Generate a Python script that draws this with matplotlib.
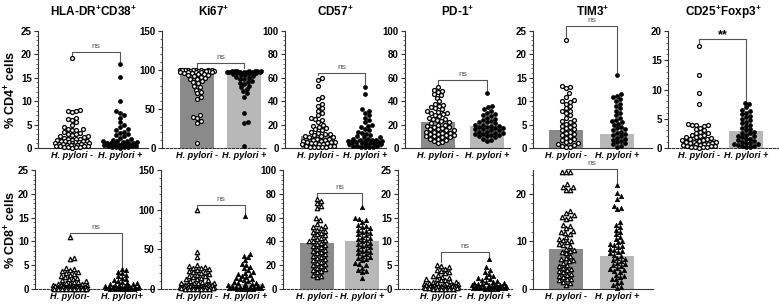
import numpy as np
import matplotlib.pyplot as plt
from matplotlib.ticker import MultipleLocator, AutoMinorLocator

plt.rcParams['font.family'] = ['Liberation Sans', 'DejaVu Sans']
plt.rcParams['mathtext.fontset'] = 'custom'
plt.rcParams['mathtext.rm'] = 'Liberation Sans'
plt.rcParams['mathtext.bf'] = 'Liberation Sans:bold'
plt.rcParams['mathtext.it'] = 'Liberation Sans:italic'

# ---- data ----
titles = [r'HLA-DR$^{\mathbf{+}}$CD38$^{\mathbf{+}}$', r'Ki67$^{\mathbf{+}}$', r'CD57$^{\mathbf{+}}$',
          r'PD-1$^{\mathbf{+}}$', r'TIM3$^{\mathbf{+}}$', r'CD25$^{\mathbf{+}}$Foxp3$^{\mathbf{+}}$']
groups_top = ['H. pylori -', 'H. pylori +']
groups_bot = [['H. pylori-', 'H. pylori+']] + [['H. pylori -', 'H. pylori +']] * 4

# CD4+ row
hla4_neg = [19.2, 8.2, 8.0, 7.8, 7.6, 6.5, 6.2, 6.0, 5.5, 5.0, 4.5, 4.0, 4.0, 3.9, 3.8, 3.5, 3.2, 3.0,
            3.0, 2.8, 2.6, 2.5, 2.4, 2.2, 2.0, 2.0, 1.9, 1.8, 1.7, 1.6, 1.5, 1.5, 1.4, 1.3, 1.2, 1.2,
            1.1, 1.0, 1.0, 0.9, 0.9, 0.8, 0.8, 0.7, 0.7, 0.6, 0.6, 0.5, 0.5, 0.4, 0.4, 0.3, 0.3, 0.2,
            0.2, 0.1]
hla4_pos = [18.0, 15.2, 10.0, 7.8, 7.5, 7.0, 6.5, 5.5, 5.0, 4.5, 4.0, 3.8, 3.5, 3.2, 3.0, 2.8, 2.5,
            2.2, 2.0, 1.8, 1.6, 1.5, 1.4, 1.3, 1.2, 1.1, 1.0, 1.0, 0.9, 0.8, 0.8, 0.7, 0.6, 0.6, 0.5,
            0.5, 0.4, 0.3, 0.3, 0.2, 0.2, 0.1]
ki4_neg = [100, 100, 100, 100, 100, 100, 99.5, 99.5, 99.5, 99, 99, 99, 99, 98.5, 98.5, 98, 98, 97.5,
           97, 97, 96.5, 96, 95.5, 95, 94, 93, 92, 91, 90, 89, 88, 86, 85, 83, 80, 78, 75, 72, 70, 66,
           63, 42, 40, 38, 35, 32, 7]
ki4_pos = [99, 99, 99, 99, 98.5, 98.5, 98.5, 98, 98, 98, 97.5, 97.5, 97, 97, 96.5, 96, 95.5, 95, 94,
           93, 92, 91, 90, 89, 88, 86, 85, 83, 82, 80, 78, 76, 73, 70, 66, 45, 33, 32, 2]
cd57_4_neg = [60, 58, 53, 44, 42, 38, 36, 34, 32, 30, 28, 26, 25, 24, 22, 20, 19, 18, 17, 16, 15, 14,
              13, 12, 12, 11, 10, 10, 9, 9, 8, 8, 7, 7, 6, 6, 5, 5, 5, 4, 4, 4, 3, 3, 3, 2, 2, 2, 1,
              1, 1, 0.5, 0.5]
cd57_4_pos = [52, 46, 33, 32, 30, 28, 26, 24, 22, 20, 19, 18, 16, 15, 14, 13, 12, 11, 10, 9, 9, 8, 8,
              7, 7, 7, 6, 6, 6, 5, 5, 5, 4, 4, 4, 3, 3, 3, 2, 2, 2, 1, 1, 1, 0.5]
pd1_4_neg = [52, 50, 49, 48, 46, 45, 43, 40, 38, 37, 36, 35, 34, 33, 32, 31, 30, 30, 29, 28, 27, 26,
             25, 25, 24, 23, 22, 21, 20, 20, 19, 18, 18, 17, 16, 16, 15, 15, 14, 14, 13, 13, 12, 12,
             11, 11, 10, 10, 9, 9, 8, 8, 7, 6, 5, 4]
pd1_4_pos = [47, 36, 35, 33, 32, 30, 29, 28, 27, 26, 25, 24, 23, 22, 22, 21, 20, 20, 19, 19, 18, 18,
             17, 17, 16, 16, 15, 15, 14, 14, 13, 13, 12, 12, 11, 11, 10, 10, 9, 8, 7, 6]
tim3_4_neg = [23, 13.2, 13, 12.8, 11.7, 11, 10.2, 10, 9.9, 9.5, 9, 8.5, 8, 7.8, 7.5, 7, 6.5, 6, 5.8,
              5.5, 5.2, 5, 4.8, 4.5, 4.2, 4, 3.8, 3.5, 3.2, 3, 2.8, 2.5, 2.2, 2, 1.8, 1.5, 1.2, 1,
              0.8, 0.6, 0.5, 0.3, 0.2]
tim3_4_pos = [15.6, 11.5, 11.2, 10.8, 10.5, 10, 9.5, 9, 8.5, 8, 7.5, 7, 6.5, 6, 5.8, 5.5, 5.2, 5, 4.5,
              4.2, 4, 3.8, 3.5, 3.2, 3, 2.8, 2.5, 2.2, 2, 1.8, 1.5, 1.2, 1, 0.8, 0.5, 0.3]
cd25_4_neg = [17.5, 12.5, 9.4, 7.5, 4.1, 4.0, 4.0, 3.9, 3.8, 3.5, 3.2, 3, 2.8, 2.6, 2.5, 2.3, 2.2, 2,
              1.9, 1.8, 1.7, 1.6, 1.5, 1.4, 1.3, 1.2, 1.1, 1, 1, 0.9, 0.8, 0.7, 0.7, 0.6, 0.5, 0.5,
              0.4, 0.3, 0.3, 0.2, 0.2, 0.1, 0.1, 0.05]
cd25_4_pos = [7.7, 7.6, 7.0, 6.5, 6.3, 6.0, 5.8, 5.5, 5.3, 5.0, 4.8, 4.5, 4.2, 4.0, 3.8, 3.5, 3.3, 3.0,
              2.8, 2.6, 2.5, 2.3, 2.1, 2.0, 1.8, 1.6, 1.5, 1.4, 1.2, 1.0, 0.9, 0.8, 0.7, 0.6, 0.5,
              0.4, 0.3, 0.2, 0.1]

# CD8+ row
hla8_neg = [11.0, 6.5, 6.2, 4.4, 4.2, 4.0, 3.8, 3.6, 3.4, 3.2, 3.0, 2.8, 2.6, 2.4, 2.2, 2.0, 1.8, 1.6,
            1.5, 1.4, 1.3, 1.2, 1.1, 1.0, 0.9, 0.9, 0.8, 0.8, 0.7, 0.7, 0.6, 0.6, 0.6, 0.5, 0.5, 0.5,
            0.5, 0.4, 0.4, 0.4, 0.4, 0.3, 0.3, 0.3, 0.3, 0.3, 0.2, 0.2, 0.2, 0.2, 0.2, 0.1, 0.1, 0.1,
            0.1, 0.1, 0.05, 0.05, 0.05, 0.05]
hla8_pos = [4.2, 3.9, 3.6, 3.3, 3.0, 2.7, 2.4, 2.1, 1.9, 1.7, 1.5, 1.3, 1.2, 1.1, 1.0, 0.9, 0.8, 0.7,
            0.6, 0.6, 0.5, 0.5, 0.4, 0.4, 0.4, 0.3, 0.3, 0.3, 0.2, 0.2, 0.2, 0.2, 0.1, 0.1, 0.1, 0.1,
            0.05, 0.05, 0.05]
ki8_neg = [100, 47, 40, 30, 29, 28, 27, 26, 25, 24, 23, 22, 21, 20, 19, 18, 17, 16, 15, 14, 13, 12,
           11, 10, 9, 8, 8, 7, 7, 6, 6, 5, 5, 5, 4, 4, 4, 3, 3, 3, 3, 2, 2, 2, 2, 1.5, 1.5, 1, 1, 1,
           1, 0.5, 0.5, 0.5, 0.5, 0.2, 0.2, 0.2]
ki8_pos = [92, 44, 42, 40, 36, 32, 30, 28, 26, 24, 22, 20, 19, 18, 16, 15, 14, 13, 12, 11, 10, 9, 8,
           7, 6, 6, 5, 5, 4, 4, 3, 3, 3, 2, 2, 2, 1.5, 1, 1, 1, 0.5, 0.5, 0.5, 0.2, 0.2]
cd57_8_neg = [76, 74, 72, 70, 68, 60, 58, 55, 53, 52, 51, 50, 49, 48, 47, 46, 45, 44, 43, 42, 41, 40,
              40, 39, 38, 37, 36, 35, 34, 33, 32, 31, 30, 29, 28, 27, 26, 25, 24, 23, 22, 21, 20, 19,
              18, 17, 16, 15, 14, 12, 11, 10]
cd57_8_pos = [69, 60, 59, 58, 56, 54, 53, 52, 51, 50, 49, 48, 47, 46, 45, 44, 43, 42, 41, 40, 39, 38,
              37, 36, 35, 34, 33, 32, 31, 30, 29, 28, 27, 26, 25, 24, 22, 21, 20, 18, 16, 15, 14, 9]
pd1_8_neg = [5.0, 4.8, 4.6, 4.3, 4.0, 3.8, 3.5, 3.3, 3.0, 2.8, 2.6, 2.4, 2.2, 2.0, 1.9, 1.8, 1.6, 1.5,
             1.4, 1.3, 1.2, 1.1, 1.0, 1.0, 0.9, 0.9, 0.8, 0.8, 0.7, 0.7, 0.7, 0.6, 0.6, 0.6, 0.5, 0.5,
             0.5, 0.5, 0.4, 0.4, 0.4, 0.4, 0.3, 0.3, 0.3, 0.3, 0.2, 0.2, 0.2, 0.2, 0.1, 0.1, 0.1, 0.1,
             0.05, 0.05]
pd1_8_pos = [6.4, 4.6, 4.0, 3.6, 3.2, 2.8, 2.5, 2.3, 2.1, 1.9, 1.7, 1.5, 1.4, 1.3, 1.2, 1.1, 1.0, 0.9,
             0.9, 0.8, 0.8, 0.7, 0.7, 0.6, 0.6, 0.5, 0.5, 0.4, 0.4, 0.4, 0.3, 0.3, 0.3, 0.2, 0.2, 0.2,
             0.1, 0.1, 0.1, 0.05]
tim3_8_neg = [24.5, 24.5, 24.5, 22, 21.5, 21.5, 20.8, 20.8, 16.3, 16, 15.5, 15.2, 15, 14.8, 13.5, 13.2,
              12.8, 12.2, 12, 11.8, 11.5, 11, 10.5, 10.2, 10, 9.8, 9.5, 9.2, 9, 8.5, 8.2, 8, 7.8, 7.5,
              7, 6.5, 6.2, 6, 5.8, 5.5, 5, 4.8, 4.5, 4.2, 4, 3.8, 3.5, 3.2, 3, 2.8, 2.5, 2.2, 2, 1.8,
              1.5, 1.2, 0.8]
tim3_8_pos = [21.8, 20.2, 19.5, 19, 17.5, 17, 16.8, 14, 13.5, 13, 12.5, 12, 11.5, 11, 10.5, 10, 9.8,
              9.5, 9.2, 9, 8.8, 8.5, 8.2, 8, 7.8, 7.5, 7.2, 7, 6.5, 6.2, 6, 5.8, 5.5, 5.2, 5, 4.8, 4.5,
              4.2, 4, 3.8, 3.5, 3, 2.8, 2.5, 2.2, 2, 1.5, 1.2, 0.8, 0.5, 0.2]

bars_top = [[2.0, 1.6], [97, 97], [10, 7.5], [22, 18.5], [3.8, 3.0], [1.6, 2.9]]
bars_bot = [[0.5, 0.4], [7, 6], [39, 40], [0.8, 0.7], [8.3, 7.0]]
sig_top = ['ns', 'ns', 'ns', 'ns', 'ns', '**']
sig_bot = ['ns', 'ns', 'ns', 'ns', 'ns']

top_data = [(hla4_neg, hla4_pos), (ki4_neg, ki4_pos), (cd57_4_neg, cd57_4_pos),
            (pd1_4_neg, pd1_4_pos), (tim3_4_neg, tim3_4_pos), (cd25_4_neg, cd25_4_pos)]
bot_data = [(hla8_neg, hla8_pos), (ki8_neg, ki8_pos), (cd57_8_neg, cd57_8_pos),
            (pd1_8_neg, pd1_8_pos), (tim3_8_neg, tim3_8_pos)]

# ---- layout (pixels of the 779x308 picture) ----
W, H = 779, 308
# left spine, right end, centre group 1, centre group 2, ymax, major step, bracket y, dotted baseline
top_lay = [(38, 148, 72, 120, 25, 5, 20.6, False),
           (162, 266, 197, 244, 150, 50, 109, True),
           (285, 386, 318, 365, 100, 20, 64, False),
           (405, 510, 438, 487, 100, 20, 58, False),
           (533, 652, 566, 617, 25, 5, 26, False),
           (668, 778, 699, 746, 20, 5, 18.6, True)]
bot_lay = [(35, 155, 70, 122, 25, 5, 11.8, True),
           (161, 266, 197, 245, 150, 50, 106, True),
           (283, 386, 317, 362, 100, 20, 80.5, True),
           (398, 512, 441, 489, 25, 5, 7.8, True),
           (533, 653, 566, 617, 25, 10, 25.2, False)]

DARK, LIGHT = '#8a8a8a', '#b8b8b8'


def swarm(vals, ppu, d=4.0, maxw=18.0):
    # beeswarm offsets in pixels, points placed from low to high value
    y = np.asarray(vals, float) * ppu
    cands = [0.0]
    for k in range(1, 60):
        cands += [k * d / 3.0, -k * d / 3.0]
    cands = np.array([c for c in cands if abs(c) <= maxw])
    xs = np.zeros(len(y))
    done = []
    for i in np.argsort(y, kind='stable'):
        if done:
            dx = cands[:, None] - xs[done][None, :]
            dy = y[i] - y[done]
            gap = np.sqrt(dx ** 2 + dy[None, :] ** 2).min(axis=1)
            ok = np.where(gap >= d)[0]
            xs[i] = cands[ok[0]] if len(ok) else cands[np.argmax(gap)]
        done.append(i)
    return xs


fig = plt.figure(figsize=(W / 100, H / 100), dpi=100)


def panel(lay, top_px, bot_px, data, bars, sig, labels, marker, title=None):
    left, right, c0, c1, ymax, step, by, dotted = lay
    ax = fig.add_axes([left / W, 1 - bot_px / H, (right - left) / W, (bot_px - top_px) / H])
    ppu = (bot_px - top_px) / ymax
    xc = [0, c1 - c0]
    ax.bar(xc, bars, width=34, color=[DARK, LIGHT], zorder=1)
    size = 8 if marker == 'o' else 10
    for k, vals in enumerate(data):
        off = swarm(vals, ppu)
        if k == 0:
            ax.scatter(xc[k] + off, vals, s=size, marker=marker, facecolor='white',
                       edgecolor='black', linewidth=0.9, zorder=3, clip_on=False)
        else:
            ax.scatter(xc[k] + off, vals, s=size, marker=marker, facecolor='black',
                       edgecolor='black', linewidth=0.5, zorder=3, clip_on=False)
    # significance bracket
    top0 = max(data[0]) + 3 / ppu
    top1 = max(data[1]) + 3 / ppu
    ax.plot([xc[0], xc[0], xc[1], xc[1]], [top0, by, by, top1], color='#555555', lw=0.8,
            clip_on=False, zorder=2)
    if sig == 'ns':
        ax.text(sum(xc) / 2, by + 2 / ppu, 'ns', ha='center', va='bottom', fontsize=6,
                color='#555555', clip_on=False)
    else:
        ax.text(sum(xc) / 2, by - 2 / ppu, sig, ha='center', va='bottom', fontsize=9,
                fontweight='bold', color='black', clip_on=False)
    ax.set_xlim(left - c0, right - c0)
    ax.set_ylim(0, ymax)
    ax.yaxis.set_major_locator(MultipleLocator(step))
    ax.yaxis.set_minor_locator(AutoMinorLocator(5))
    ax.set_xticks(xc)
    ax.set_xticklabels(labels, fontsize=6.6, fontweight='bold', fontstyle='italic')
    for t in ax.get_yticklabels():
        t.set_fontweight('bold')
    ax.tick_params(axis='y', which='major', length=3, width=0.8, labelsize=7, pad=1.5,
                   color='#333333')
    ax.tick_params(axis='y', which='minor', length=1.5, width=0.5, color='#333333')
    ax.tick_params(axis='x', length=0, pad=2)
    for s in ['top', 'right']:
        ax.spines[s].set_visible(False)
    ax.spines['left'].set_color('#333333')
    ax.spines['left'].set_linewidth(0.8)
    ax.spines['bottom'].set_color('#333333')
    ax.spines['bottom'].set_linewidth(0.8)
    if dotted:
        ax.spines['bottom'].set_linestyle((0, (2, 1.5)))
    if title:
        ax.set_title(title, fontsize=8.5, fontweight='bold', pad=11)
    return ax


for i in range(6):
    panel(top_lay[i], 31, 148, top_data[i], bars_top[i], sig_top[i], groups_top, 'o', titles[i])
for i in range(5):
    panel(bot_lay[i], 170, 289, bot_data[i], bars_bot[i], sig_bot[i], groups_bot[i], '^')

fig.text(11 / W, 1 - 90 / H, r'% CD4$^{\mathbf{+}}$ cells', rotation=90, ha='center', va='center',
         fontsize=9, fontweight='bold')
fig.text(11 / W, 1 - 230 / H, r'% CD8$^{\mathbf{+}}$ cells', rotation=90, ha='center', va='center',
         fontsize=9, fontweight='bold')

fig.savefig('out.png', dpi=100)
